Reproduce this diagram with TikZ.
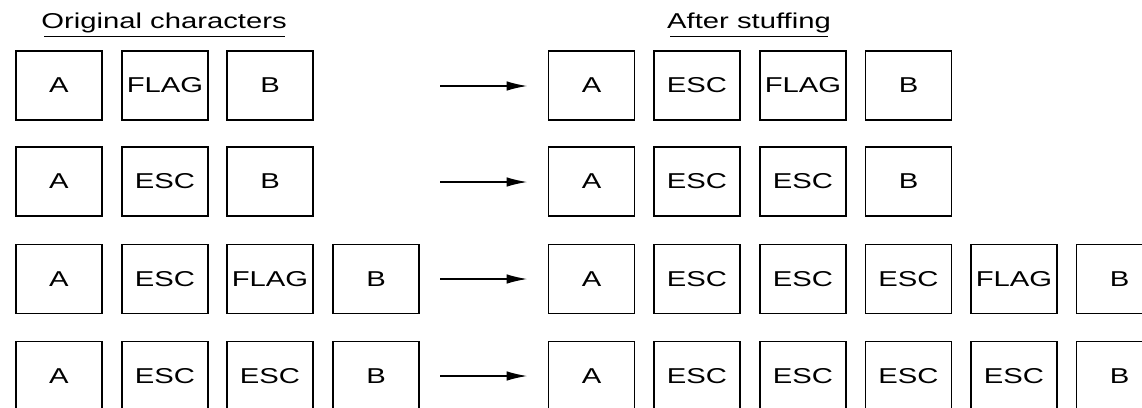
\documentclass[tikz,border=0pt]{standalone}
\usepackage{fontspec}
\setmainfont{Liberation Sans}[FakeStretch=1.36]
\usetikzlibrary{arrows.meta}
\tikzset{
  charbox/.style={draw, line width=1.7pt, minimum width=86pt, minimum height=69pt, inner sep=0pt},
  title/.style={inner xsep=0pt, inner ysep=3.5pt},
  stuffarrow/.style={-{Latex[length=21pt,width=9.5pt]}, line width=1.8pt}
}
\begin{document}
\begin{tikzpicture}[x=1pt, y=-1pt, font=\fontsize{21.5}{25}\selectfont]
				  \clip (0,0) rectangle (1142,407);
				  \useasboundingbox (0,0) rectangle (1142,407);
				  \fill[white] (0,0) rectangle (1142,407);
				  \node[title, anchor=base] (orig) at (164,28) {Original characters};
				  \node[title, anchor=base] (after) at (749,28) {After stuffing};
				  \draw[line width=1.3pt, shorten <=3pt, shorten >=2pt] (orig.south west) -- (orig.south east);
				  \draw[line width=1.3pt, shorten <=3pt, shorten >=3pt] (after.south west) -- (after.south east);
				  % row 1
				  \node[charbox] (l11) at (59,85.5) {A};
				  \node[charbox] (l12) at (165,85.5) {FLAG};
				  \node[charbox] (l13) at (270,85.5) {B};
				  \node[charbox] (r11) at (591.5,85.5) {A};
				  \node[charbox] (r12) at (697,85.5) {ESC};
				  \node[charbox] (r13) at (803,85.5) {FLAG};
				  \node[charbox] (r14) at (908.5,85.5) {B};
				  % row 2
				  \node[charbox] (l21) at (59,181.5) {A};
				  \node[charbox] (l22) at (165,181.5) {ESC};
				  \node[charbox] (l23) at (270,181.5) {B};
				  \node[charbox] (r21) at (591.5,181.5) {A};
				  \node[charbox] (r22) at (697,181.5) {ESC};
				  \node[charbox] (r23) at (803,181.5) {ESC};
				  \node[charbox] (r24) at (908.5,181.5) {B};
				  % row 3
				  \node[charbox] (l31) at (59,279) {A};
				  \node[charbox] (l32) at (165,279) {ESC};
				  \node[charbox] (l33) at (270,279) {FLAG};
				  \node[charbox] (l34) at (376,279) {B};
				  \node[charbox] (r31) at (591.5,279) {A};
				  \node[charbox] (r32) at (697,279) {ESC};
				  \node[charbox] (r33) at (803,279) {ESC};
				  \node[charbox] (r34) at (908.5,279) {ESC};
				  \node[charbox] (r35) at (1014,279) {FLAG};
				  \node[charbox] (r36) at (1119.5,279) {B};
				  % row 4
				  \node[charbox] (l41) at (59,376) {A};
				  \node[charbox] (l42) at (165,376) {ESC};
				  \node[charbox] (l43) at (270,376) {ESC};
				  \node[charbox] (l44) at (376,376) {B};
				  \node[charbox] (r41) at (591.5,376) {A};
				  \node[charbox] (r42) at (697,376) {ESC};
				  \node[charbox] (r43) at (803,376) {ESC};
				  \node[charbox] (r44) at (908.5,376) {ESC};
				  \node[charbox] (r45) at (1014,376) {ESC};
				  \node[charbox] (r46) at (1119.5,376) {B};
				  % arrows
				  \coordinate (t1) at (440,86);
				  \coordinate (t2) at (440,182);
				  \coordinate (t3) at (440,279);
				  \coordinate (t4) at (440,376);
				  \coordinate (h1) at ([xshift=-20pt]r11.west |- t1);
				  \coordinate (h2) at ([xshift=-20pt]r21.west |- t2);
				  \coordinate (h3) at ([xshift=-20pt]r31.west |- t3);
				  \coordinate (h4) at ([xshift=-20pt]r41.west |- t4);
				  \draw[stuffarrow] (t1) -- (h1);
				  \draw[stuffarrow] (t2) -- (h2);
				  \draw[stuffarrow] (t3) -- (h3);
				  \draw[stuffarrow] (t4) -- (h4);
				\end{tikzpicture}
\end{document}
